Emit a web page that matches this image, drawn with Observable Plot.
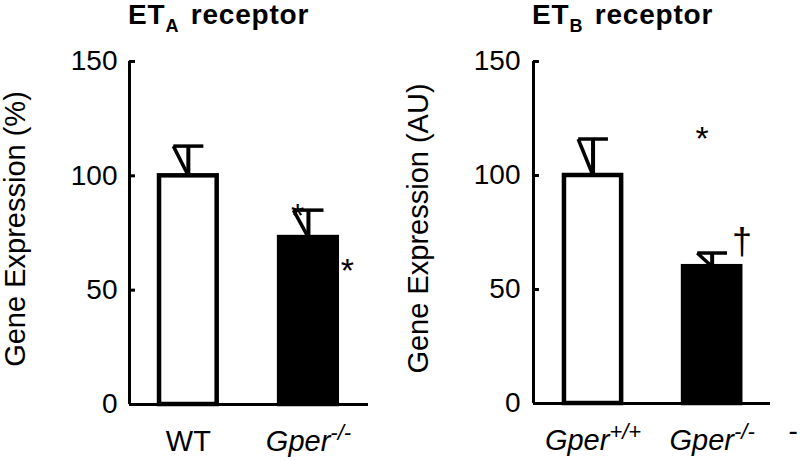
<!DOCTYPE html>
<html><head><meta charset="utf-8">
<script src="https://cdn.jsdelivr.net/npm/d3@7"></script>
<script src="https://cdn.jsdelivr.net/npm/@observablehq/plot@0.6"></script>
<style>
body{margin:0;background:#fff;}
#wrap{position:relative;width:800px;height:460px;overflow:hidden;font-family:"Liberation Sans",Arial,sans-serif;background:#fff;}
.panel{position:absolute;top:0;}
.title{position:absolute;top:0px;font-weight:bold;font-size:28px;line-height:30px;letter-spacing:0.8px;white-space:nowrap;color:#000;}
.title sub{font-size:18px;vertical-align:baseline;position:relative;top:8px;margin-right:3px;}
</style></head>
<body><div id="wrap"></div>
<script>
// ---- data ----
const leftCategories = ["WT", "Gper-/-"];
const leftMeans = [100, 73];
const leftUpper = [113, 85];
const leftFills = ["white", "black"];
const leftYLabel = "Gene Expression (%)";
const leftNotes = [ {i: 0.91, y: 82.5, t: "*"}, {i: 1.325, y: 58.5, t: "*"} ];

const rightCategories = ["Gper+/+", "Gper-/-"];
const rightMeans = [100, 60];
const rightUpper = [116, 66];
const rightFills = ["white", "black"];
const rightYLabel = "Gene Expression (AU)";
const rightNotes = [ {i: 0.916, y: 116, t: "*"}, {i: 1.25, y: 70.5, t: "\u2020", size: 36}, {i: 1.68, y: -12, t: "-", size: 28} ];

const yTicks = [0, 50, 100, 150];
const yDomain = [0, 150];

function panel(o) {
  const data = o.cats.map((c, i) => ({i, c, mean: o.means[i], up: o.upper[i], fill: o.fills[i]}));
  const barHalf = 0.24, capHalf = 0.125, tickLen = 0.05;
  const x0 = o.xDomain[0], x1 = o.xDomain[1];
  const chart = Plot.plot({
    width: 400, height: 460,
    marginLeft: o.ml, marginRight: o.mr, marginTop: o.mt, marginBottom: o.mb,
    x: {domain: o.xDomain, axis: null},
    y: {domain: yDomain, axis: null},
    style: {fontFamily: "'Liberation Sans', Arial, sans-serif", background: "transparent", overflow: "visible", color: "black"},
    marks: [
      Plot.rect(data, {x1: d => d.i - barHalf, x2: d => d.i + barHalf, y1: 0, y2: "mean", fill: "fill", stroke: "black", strokeWidth: 4.5}),
      Plot.link(data, {x1: "i", x2: "i", y1: "mean", y2: "up", stroke: "black", strokeWidth: 4}),
      Plot.link(data, {x1: d => d.i - capHalf, x2: d => d.i + capHalf, y1: "up", y2: "up", stroke: "black", strokeWidth: 3.5}),
      Plot.link(data, {x1: d => d.i - capHalf, y1: "up", x2: "i", y2: "mean", stroke: "black", strokeWidth: 3.5}),
      Plot.ruleY([0], {x1: x0, x2: x1, stroke: "black", strokeWidth: 3}),
      Plot.ruleX([x0], {y1: yDomain[0], y2: yDomain[1], stroke: "black", strokeWidth: 3}),
      Plot.ruleY(yTicks, {y: d => d, x1: x0, x2: x0 + tickLen, stroke: "black", strokeWidth: 3}),
      Plot.text(yTicks, {x: x0, y: d => d, dx: o.tickDx, textAnchor: "end", text: d => String(d), fontSize: 28, fill: "black"}),
      Plot.text([o.ylabel], {frameAnchor: "left", textAnchor: "middle", rotate: -90, dx: o.labelDx, dy: -4, fontSize: 29, fill: "black"}),
      Plot.text(data, {x: "i", y: 0, text: "c", lineAnchor: "top", dy: 26, fontSize: 29, fill: "black"}),
      Plot.text(o.notes, {x: "i", y: "y", text: "t", fontSize: d => d.size || 34, fill: "black"})
    ]
  });
  // italic gene names with superscript genotype
  d3.select(chart).selectAll("text").each(function() {
    const t = this.textContent;
    const m = /^Gper(.*)$/.exec(t);
    if (m && this.children.length === 0) {
      const el = d3.select(this);
      el.text(null);
      el.append("tspan").attr("font-style", "italic").text("Gper");
      el.append("tspan").attr("font-size", 22).attr("dy", -11).attr("font-style", "italic").text(m[1]);
    }
  });
  chart.classList.add("panel");
  chart.style.left = o.left + "px";
  return chart;
}

const wrap = document.getElementById("wrap");
wrap.appendChild(panel({cats: leftCategories, means: leftMeans, upper: leftUpper, fills: leftFills, notes: leftNotes,
  ylabel: leftYLabel, xDomain: [-0.49, 1.5], ml: 129, mr: 32, mt: 61, mb: 56, tickDx: -12, labelDx: -114, left: 0}));
wrap.appendChild(panel({cats: rightCategories, means: rightMeans, upper: rightUpper, fills: rightFills, notes: rightNotes,
  ylabel: rightYLabel, xDomain: [-0.5, 1.49], ml: 133, mr: 30, mt: 61, mb: 57, tickDx: -13, labelDx: -115, left: 400}));

const t1 = document.createElement("div");
t1.className = "title"; t1.style.left = "128px";
t1.innerHTML = "ET<sub>A</sub> receptor";
wrap.appendChild(t1);
const t2 = document.createElement("div");
t2.className = "title"; t2.style.left = "532px";
t2.innerHTML = "ET<sub>B</sub> receptor";
wrap.appendChild(t2);
</script></body></html>
